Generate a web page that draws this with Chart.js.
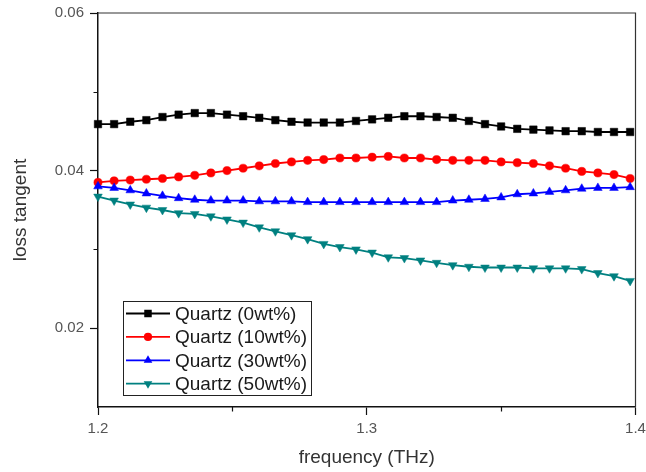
<!DOCTYPE html>
<html>
<head>
<meta charset="utf-8">
<script src="https://cdn.jsdelivr.net/npm/chart.js@4/dist/chart.umd.min.js"></script>
<style>
html,body{margin:0;padding:0;background:#fff;}
#wrap{width:646px;height:472px;position:relative;}
</style>
</head>
<body>
<div id="wrap"><canvas id="c" width="646" height="472"></canvas></div>
<script>
// ---- data ----
const freq = [1.200,1.206,1.212,1.218,1.224,1.230,1.236,1.242,1.248,1.254,1.260,1.266,1.272,1.278,1.284,1.290,1.296,1.302,1.308,1.314,1.320,1.326,1.332,1.338,1.344,1.350,1.356,1.362,1.368,1.374,1.380,1.386,1.392,1.398];
const quartz0  = [0.0459,0.0459,0.0462,0.0464,0.0468,0.0471,0.0473,0.0473,0.0471,0.0469,0.0467,0.0464,0.0462,0.0461,0.0461,0.0461,0.0463,0.0465,0.0467,0.0469,0.0469,0.0468,0.0467,0.0463,0.0459,0.0456,0.0453,0.0452,0.0451,0.0450,0.0450,0.0449,0.0449,0.0449];
const quartz10 = [0.0385,0.0387,0.0388,0.0389,0.0390,0.0392,0.0394,0.0397,0.0400,0.0403,0.0406,0.0409,0.0411,0.0413,0.0414,0.0416,0.0416,0.0417,0.0418,0.0416,0.0416,0.0414,0.0413,0.0413,0.0413,0.0411,0.0410,0.0409,0.0406,0.0403,0.0399,0.0397,0.0395,0.0390];
const quartz30 = [0.0380,0.0378,0.0375,0.0371,0.0368,0.0365,0.0363,0.0362,0.0362,0.0362,0.0361,0.0361,0.0361,0.0360,0.0360,0.0360,0.0360,0.0360,0.0360,0.0360,0.0360,0.0360,0.0362,0.0363,0.0364,0.0366,0.0370,0.0371,0.0373,0.0375,0.0377,0.0378,0.0378,0.0379];
const quartz50 = [0.0367,0.0362,0.0357,0.0353,0.0350,0.0346,0.0345,0.0342,0.0338,0.0334,0.0328,0.0323,0.0318,0.0313,0.0307,0.0303,0.0300,0.0296,0.0290,0.0289,0.0286,0.0283,0.0280,0.0278,0.0277,0.0277,0.0277,0.0276,0.0276,0.0276,0.0275,0.0270,0.0266,0.0260];
const seriesNames = ['Quartz (0wt%)','Quartz (10wt%)','Quartz (30wt%)','Quartz (50wt%)'];
const xTicks = [1.2,1.3,1.4];
const xMinorTicks = [1.25,1.35];
const yTicks = [0.02,0.04,0.06];
const yMinorTicks = [0.03,0.05];

// ---- styles ----
const FONT = "'Liberation Sans', Arial, sans-serif";
const styles = [
  {color:'#000000', pointStyle:'rect', radius:5.3, rotation:0},
  {color:'#ff0000', pointStyle:'circle', radius:4.1, rotation:0},
  {color:'#0000ff', pointStyle:'triangle', radius:5, rotation:0},
  {color:'#008080', pointStyle:'triangle', radius:5, rotation:180}
];
const allSeries = [quartz0, quartz10, quartz30, quartz50];

const datasets = allSeries.map((arr, i) => ({
  label: seriesNames[i],
  data: freq.map((f, k) => ({x: f, y: arr[k]})),
  borderColor: styles[i].color,
  backgroundColor: styles[i].color,
  pointBackgroundColor: styles[i].color,
  pointBorderColor: styles[i].color,
  pointBorderWidth: 0.5,
  pointStyle: styles[i].pointStyle,
  pointRadius: styles[i].radius,
  pointRotation: styles[i].rotation,
  borderWidth: 1.8,
  tension: 0,
  clip: false,
  order: 3 - i
}));

function drawMarker(ctx, style, x, y, color) {
  ctx.save();
  ctx.fillStyle = color;
  ctx.beginPath();
  const r = style.radius;
  if (style.pointStyle === 'rect') {
    const s = Math.SQRT1_2 * r;
    ctx.rect(x - s, y - s, 2 * s, 2 * s);
  } else if (style.pointStyle === 'circle') {
    ctx.arc(x, y, r, 0, Math.PI * 2);
  } else {
    const sgn = style.rotation === 180 ? -1 : 1;
    const w = Math.sqrt(3) / 2 * r;
    ctx.moveTo(x, y - sgn * r);
    ctx.lineTo(x - w, y + sgn * r / 2);
    ctx.lineTo(x + w, y + sgn * r / 2);
    ctx.closePath();
  }
  ctx.fill();
  ctx.restore();
}

const extras = {
  id: 'extras',
  afterDraw(chart) {
    const ctx = chart.ctx;
    const a = chart.chartArea;
    const xs = chart.scales.x, ys = chart.scales.y;
    ctx.save();
    // top & right frame
    ctx.strokeStyle = '#333';
    ctx.lineWidth = 1.2;
    ctx.beginPath();
    ctx.moveTo(a.left, a.top); ctx.lineTo(a.right, a.top); ctx.lineTo(a.right, a.bottom);
    ctx.stroke();
    // minor ticks
    ctx.strokeStyle = '#111';
    ctx.lineWidth = 1.2;
    ctx.beginPath();
    xMinorTicks.forEach(v => { const px = Math.round(xs.getPixelForValue(v)) + 0.5; ctx.moveTo(px, a.bottom); ctx.lineTo(px, a.bottom + 4.5); });
    yMinorTicks.forEach(v => { const py = Math.round(ys.getPixelForValue(v)) + 0.5; ctx.moveTo(a.left, py); ctx.lineTo(a.left - 4.5, py); });
    ctx.stroke();
    // legend
    const bx = a.left + 25, by = a.top + 288, bw = 188, bh = 94;
    ctx.fillStyle = '#fff';
    ctx.fillRect(bx, by, bw, bh);
    ctx.strokeStyle = '#222';
    ctx.lineWidth = 1;
    ctx.strokeRect(bx + 0.5, by + 0.5, bw, bh);
    ctx.font = '19px ' + FONT;
    ctx.textBaseline = 'middle';
    ctx.textAlign = 'left';
    seriesNames.forEach((name, i) => {
      const cy = by + 12.5 + i * 23.4;
      ctx.strokeStyle = styles[i].color;
      ctx.lineWidth = 1.8;
      ctx.beginPath(); ctx.moveTo(bx + 3, cy); ctx.lineTo(bx + 47, cy); ctx.stroke();
      drawMarker(ctx, styles[i], bx + 25, cy, styles[i].color);
      ctx.fillStyle = '#1a1a1a';
      ctx.fillText(name, bx + 52, cy + 1);
    });
    ctx.restore();
  }
};

new Chart(document.getElementById('c'), {
  type: 'line',
  data: { datasets },
  plugins: [extras],
  options: {
    responsive: false,
    animation: false,
    devicePixelRatio: 1,
    layout: { padding: { top: 13, right: 10.5, left: 0, bottom: 0 } },
    plugins: { legend: { display: false }, tooltip: { enabled: false } },
    scales: {
      x: {
        type: 'linear', min: 1.2, max: 1.4,
        afterBuildTicks: s => { s.ticks = xTicks.map(v => ({value: v})); },
        afterFit: s => { s.height = 65; s.paddingLeft = 0; s.paddingRight = 0; },
        ticks: { callback: v => v.toFixed(1), font: { family: FONT, size: 15 }, color: '#555', padding: 5, maxRotation: 0, autoSkip: false },
        grid: { drawOnChartArea: false, tickLength: 8, tickColor: '#111', tickWidth: 1.2 },
        border: { color: '#111', width: 1.5 },
        title: { display: true, text: 'frequency (THz)', font: { family: FONT, size: 19 }, color: '#333', padding: { top: 0, bottom: 3 } }
      },
      y: {
        type: 'linear', min: 0.01, max: 0.06,
        afterBuildTicks: s => { s.ticks = yTicks.map(v => ({value: v})); },
        afterFit: s => { s.width = 98; s.paddingTop = 0; s.paddingBottom = 0; },
        ticks: { callback: v => v.toFixed(2), font: { family: FONT, size: 15 }, color: '#555', padding: 6, autoSkip: false },
        grid: { drawOnChartArea: false, tickLength: 8, tickColor: '#111', tickWidth: 1.2 },
        border: { color: '#111', width: 1.5 },
        title: { display: true, text: 'loss tangent', font: { family: FONT, size: 19 }, color: '#333', padding: { top: 9, bottom: 0 } }
      }
    }
  }
});
</script>
</body>
</html>
